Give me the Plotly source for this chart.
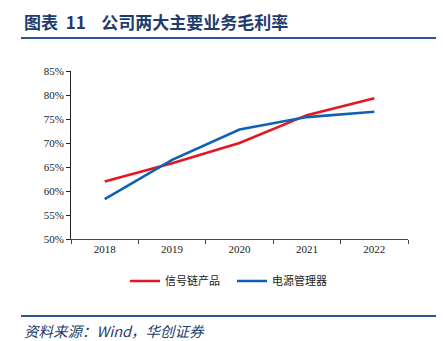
import plotly.graph_objects as go

years = ["2018", "2019", "2020", "2021", "2022"]
signal_chain = [0.620, 0.658, 0.700, 0.758, 0.793]
power_mgmt = [0.583, 0.665, 0.728, 0.754, 0.765]
series_names = ["信号链产品", "电源管理器"]
y_ticks = [0.50, 0.55, 0.60, 0.65, 0.70, 0.75, 0.80, 0.85]
y_tick_labels = ["50%", "55%", "60%", "65%", "70%", "75%", "80%", "85%"]

fig = go.Figure()
fig.add_trace(go.Scatter(x=years, y=signal_chain, name=series_names[0], mode="lines",
                         line=dict(color="#E5161F", width=2.6)))
fig.add_trace(go.Scatter(x=years, y=power_mgmt, name=series_names[1], mode="lines",
                         line=dict(color="#1060B5", width=2.6)))

W, H = 443, 341
L, R, T, B = 71, 35, 71, 102
PW, PH = W - L - R, H - T - B

fig.update_layout(
    width=W, height=H,
    margin=dict(l=L, r=R, t=T, b=B),
    paper_bgcolor="white", plot_bgcolor="white",
    showlegend=True,
    legend=dict(orientation="h", x=(125 - L) / PW, xanchor="left", y=-(281 - (H - B)) / PH, yanchor="middle",
                font=dict(family="Noto Sans CJK SC", size=11, color="#222"),
                itemwidth=30, tracegroupgap=0, entrywidth=62),
    xaxis=dict(type="category", showgrid=False, showline=True, linecolor="#444", linewidth=1,
               ticks="outside", tickson="boundaries", ticklen=4, tickcolor="#444",
               tickfont=dict(family="Liberation Serif", size=11, color="#222"),
               range=[-0.5, 4.5]),
    yaxis=dict(range=[0.50, 0.85], tickvals=y_ticks, ticktext=y_tick_labels,
               showgrid=False, showline=True, linecolor="#222", linewidth=1,
               ticks="outside", ticklen=4, tickcolor="#222",
               tickfont=dict(family="Liberation Serif", size=11, color="#222"),
               zeroline=False),
    shapes=[
        dict(type="line", xref="paper", yref="paper", x0=(21 - L) / PW, x1=(436 - L) / PW,
             y0=1 + (T - 38) / PH, y1=1 + (T - 38) / PH, line=dict(color="#2F5597", width=2)),
        dict(type="line", xref="paper", yref="paper", x0=(21 - L) / PW, x1=(436 - L) / PW,
             y0=-(316 - (H - B)) / PH, y1=-(316 - (H - B)) / PH,
             line=dict(color="#2F5597", width=2)),
    ],
    annotations=[
        dict(text="<b>图表  11    公司两大主要业务毛利率</b>", xref="paper", yref="paper",
             x=(22 - L) / PW, y=1 + (T - 22) / PH, xanchor="left", yanchor="middle",
             showarrow=False, font=dict(family="Noto Sans CJK SC", size=17, color="#1F3C6E")),
        dict(text="<i>资料来源：Wind，华创证券</i>", xref="paper", yref="paper",
             x=(22 - L) / PW, y=-(330 - (H - B)) / PH, xanchor="left", yanchor="middle",
             showarrow=False, font=dict(family="Noto Sans CJK SC", size=14.5, color="#1F3C6E")),
    ],
)

fig.write_html("out.html")
